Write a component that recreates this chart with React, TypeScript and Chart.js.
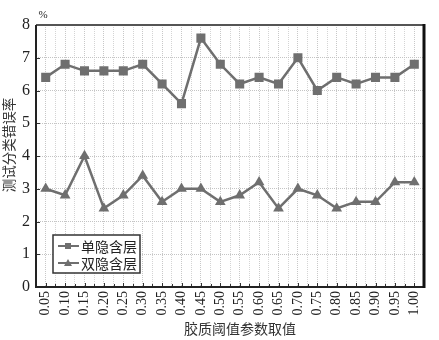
import React, { useEffect, useRef } from "react";
import { Chart, registerables } from "chart.js";

Chart.register(...registerables);

const categories = ["0.05","0.10","0.15","0.20","0.25","0.30","0.35","0.40","0.45","0.50","0.55","0.60","0.65","0.70","0.75","0.80","0.85","0.90","0.95","1.00"];
const singleHidden = [6.4, 6.8, 6.6, 6.6, 6.6, 6.8, 6.2, 5.6, 7.6, 6.8, 6.2, 6.4, 6.2, 7.0, 6.0, 6.4, 6.2, 6.4, 6.4, 6.8];
const doubleHidden = [3.0, 2.8, 4.0, 2.4, 2.8, 3.4, 2.6, 3.0, 3.0, 2.6, 2.8, 3.2, 2.4, 3.0, 2.8, 2.4, 2.6, 2.6, 3.2, 3.2];
const seriesNames = ["单隐含层", "双隐含层"];
const yTitle = "测试分类错误率";
const xTitle = "胶质阈值参数取值";
const unitLabel = "%";

const GRAY = "#6f6f6f";
const SERIF = "'Liberation Serif', 'DejaVu Serif', serif";
const CJK = "'Noto Sans CJK SC', sans-serif";

const framePlugin = {
  id: "frame",
  afterDatasetsDraw(chart: any) {
    const { ctx, chartArea: a, scales } = chart;
    ctx.save();
    // inner ticks
    ctx.strokeStyle = "#333";
    ctx.lineWidth = 1;
    const y = scales.y;
    for (let v = 0; v <= 8; v++) {
      const py = Math.round(y.getPixelForValue(v)) + 0.5;
      ctx.beginPath();
      ctx.moveTo(a.left, py);
      ctx.lineTo(a.left + 4, py);
      ctx.stroke();
    }
    const x = scales.x;
    const step = x.getPixelForValue(1) - x.getPixelForValue(0);
    for (let i = 0; i < categories.length; i++) {
      const px = Math.round(x.getPixelForValue(i)) + 0.5;
      ctx.beginPath();
      ctx.moveTo(px, a.bottom);
      ctx.lineTo(px, a.bottom - 4);
      ctx.stroke();
      const pb = Math.round(x.getPixelForValue(i) + step / 2) + 0.5;
      ctx.beginPath();
      ctx.moveTo(pb, a.bottom);
      ctx.lineTo(pb, a.bottom - 3);
      ctx.stroke();
    }
    // frame
    ctx.strokeStyle = "#555";
    ctx.lineWidth = 2;
    ctx.beginPath();
    ctx.moveTo(a.left, a.top);
    ctx.lineTo(a.right, a.top);
    ctx.stroke();
    ctx.strokeStyle = "#222";
    ctx.lineWidth = 2;
    ctx.beginPath();
    ctx.moveTo(a.left, a.top);
    ctx.lineTo(a.left, a.bottom);
    ctx.lineTo(a.right, a.bottom);
    ctx.stroke();
    ctx.strokeStyle = "#111";
    ctx.lineWidth = 3;
    ctx.beginPath();
    ctx.moveTo(a.right, a.top - 1);
    ctx.lineTo(a.right, a.bottom + 1);
    ctx.stroke();
    // unit label
    ctx.fillStyle = "#222";
    ctx.font = "11px " + SERIF;
    ctx.textAlign = "center";
    ctx.textBaseline = "middle";
    ctx.fillText(unitLabel, a.left + 7, a.top - 10);
    // axis titles
    ctx.fillStyle = "#333";
    ctx.font = "14px " + CJK;
    ctx.textAlign = "center";
    ctx.textBaseline = "middle";
    ctx.fillText(xTitle, 240, 329);
    ctx.save();
    ctx.translate(9, 145);
    ctx.rotate(-Math.PI / 2);
    ctx.font = "13.5px " + CJK;
    ctx.fillText(yTitle, 0, 0);
    ctx.restore();
    // legend
    const bx = 53, by = 235, bw = 87, bh = 38;
    ctx.fillStyle = "#fff";
    ctx.fillRect(bx, by, bw, bh);
    ctx.strokeStyle = "#333";
    ctx.lineWidth = 1.5;
    ctx.strokeRect(bx, by, bw, bh);
    chart.data.datasets.forEach((ds: any, i: number) => {
      const ly = by + 11 + i * 17;
      ctx.strokeStyle = GRAY;
      ctx.lineWidth = 2;
      ctx.beginPath();
      ctx.moveTo(bx + 5, ly);
      ctx.lineTo(bx + 26, ly);
      ctx.stroke();
      ctx.fillStyle = GRAY;
      const cx = bx + 15;
      if (ds.pointStyle === "rect") {
        ctx.fillRect(cx - 3, ly - 3, 6, 6);
      } else {
        ctx.beginPath();
        ctx.moveTo(cx, ly - 4);
        ctx.lineTo(cx + 4, ly + 3);
        ctx.lineTo(cx - 4, ly + 3);
        ctx.closePath();
        ctx.fill();
      }
      ctx.fillStyle = "#222";
      ctx.font = "14px " + CJK;
      ctx.textAlign = "left";
      ctx.textBaseline = "middle";
      ctx.fillText(ds.label, bx + 28, ly + 1);
    });
    ctx.restore();
  },
};

export default function App() {
  const ref = useRef<HTMLCanvasElement>(null);
  useEffect(() => {
    document.body.style.margin = "0";
    const chart = new Chart(ref.current!, {
      type: "line",
      data: {
        labels: categories,
        datasets: [
          {
            label: seriesNames[0],
            data: singleHidden,
            borderColor: GRAY,
            backgroundColor: GRAY,
            borderWidth: 2.5,
            pointStyle: "rect",
            pointRadius: 6.4,
            pointBorderWidth: 0,
            tension: 0,
          },
          {
            label: seriesNames[1],
            data: doubleHidden,
            borderColor: GRAY,
            backgroundColor: GRAY,
            borderWidth: 2.5,
            pointStyle: "triangle",
            pointRadius: 6.2,
            pointBorderWidth: 0,
            tension: 0,
          },
        ],
      },
      options: {
        animation: false,
        responsive: false,
        devicePixelRatio: 1,
        layout: { padding: { top: 25, right: 15, left: 0, bottom: 0 } },
        plugins: { legend: { display: false }, tooltip: { enabled: false } },
        scales: {
          x: {
            type: "category",
            position: "bottom",
            offset: true,
            grid: { offset: false, color: "#c8c8c8", lineWidth: 1, drawTicks: false },
            border: { display: false, dash: [1, 1] },
            ticks: {
              maxRotation: 90,
              minRotation: 90,
              padding: 4,
              color: "#222",
              font: { family: SERIF, size: 14 },
              autoSkip: false,
            },
            afterFit: (s: any) => { s.height = 53; },
          },
          x2: {
            type: "category",
            position: "top",
            labels: categories,
            offset: true,
            grid: { offset: true, color: "#d4d4d4", lineWidth: 1, drawTicks: false },
            border: { display: false, dash: [1, 1] },
            ticks: { display: false },
            afterFit: (s: any) => { s.height = 0; },
          },
          y: {
            min: 0,
            max: 8,
            grid: { color: "#c4c4c4", lineWidth: 1, drawTicks: false },
            border: { display: false, dash: [1, 1] },
            ticks: {
              stepSize: 1,
              padding: 6,
              color: "#222",
              font: { family: SERIF, size: 16 },
            },
            afterFit: (s: any) => { s.width = 36; },
          },
        },
      },
      plugins: [framePlugin],
    } as any);
    return () => chart.destroy();
  }, []);
  return (
    <div style={{ position: "absolute", left: 0, top: 0, width: 439, height: 340, background: "#fff" }}>
      <canvas ref={ref} width={439} height={340} />
    </div>
  );
}
